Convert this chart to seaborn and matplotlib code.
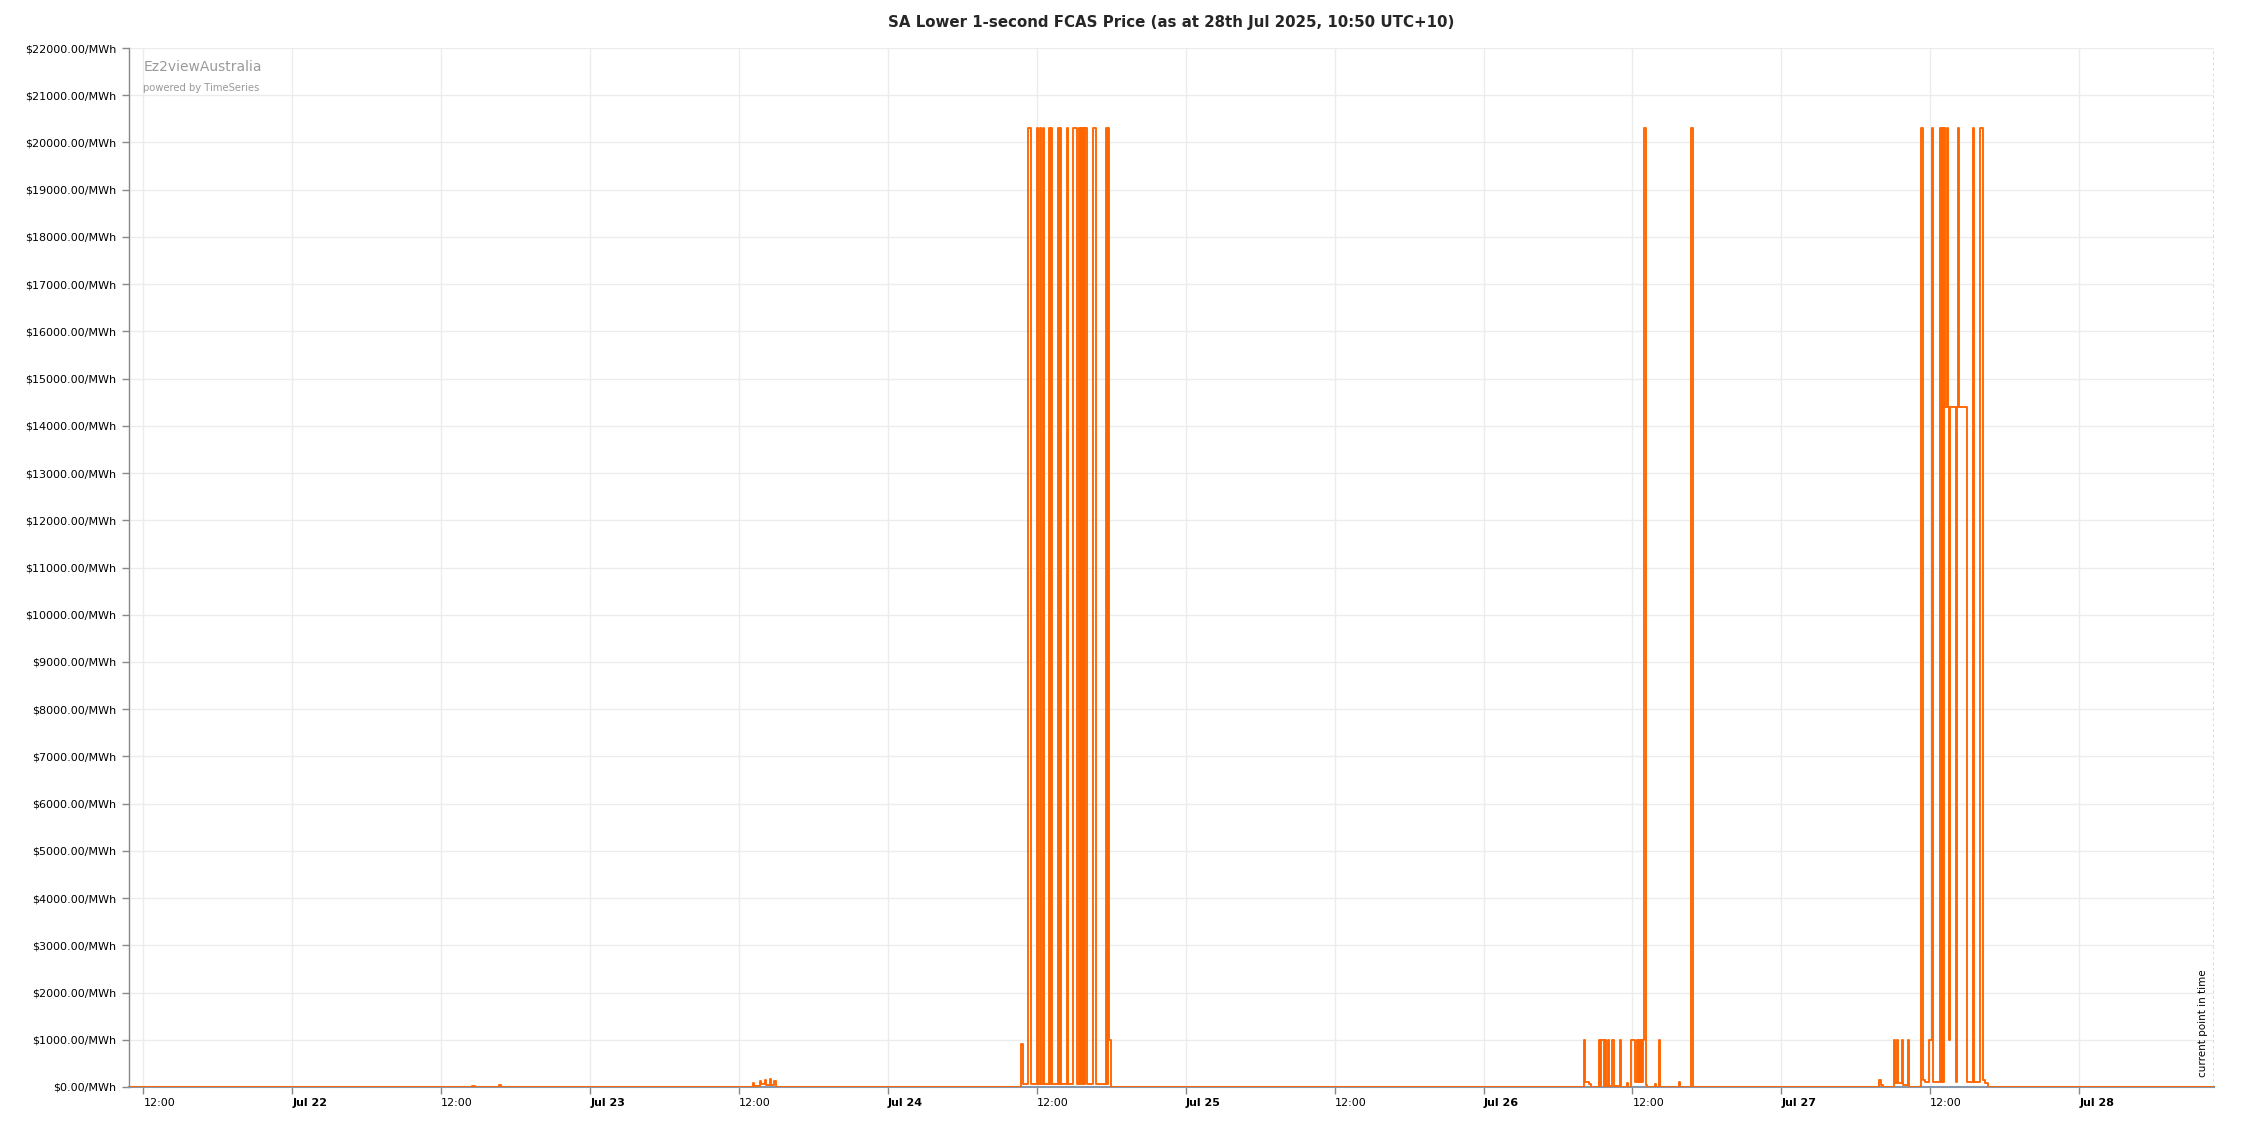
"""SA Lower 1-second FCAS price, 7-day view (Ez2view style)."""

import matplotlib

matplotlib.use("Agg")
import matplotlib.dates as mdates
import matplotlib.pyplot as plt
import matplotlib.transforms as mtransforms
import pandas as pd
import seaborn as sns

TITLE = "SA Lower 1-second FCAS Price (as at 28th Jul 2025, 10:50 UTC+10)"
WINDOW_START = "2025-07-21 10:50"
NOW = "2025-07-28 10:50"

# price change points ($/MWh), each value holds until the next time
quiet_times = ["2025-07-21 10:50", "2025-07-22 14:30", "2025-07-22 14:45",
               "2025-07-22 16:40", "2025-07-22 16:50"]
quiet_prices = [0, 30, 0, 40, 0]

jul23_times = ["2025-07-23 13:05", "2025-07-23 13:10", "2025-07-23 13:40",
               "2025-07-23 13:45", "2025-07-23 14:05", "2025-07-23 14:10",
               "2025-07-23 14:30", "2025-07-23 14:35", "2025-07-23 14:50",
               "2025-07-23 15:00"]
jul23_prices = [80, 20, 120, 60, 150, 40, 160, 50, 120, 0]

jul24_times = ["10:45", "10:55", "11:15", "11:30", "12:00", "12:05", "12:15",
               "12:20", "12:30", "12:35", "13:00", "13:05", "13:10", "13:15",
               "13:40", "13:45", "13:50", "13:55", "14:25", "14:30", "14:55",
               "15:15", "15:25", "15:30", "15:35", "15:40", "15:45", "15:50",
               "15:55", "16:00", "16:30", "16:45", "17:35", "17:40", "17:45",
               "17:50", "18:00"]
jul24_prices = [900, 60, 20300, 60, 20300, 60, 20300, 60, 20300, 60, 20300,
                60, 20300, 60, 20300, 60, 20300, 60, 20300, 60, 20300, 60,
                20300, 60, 20300, 60, 20300, 60, 20300, 60, 20300, 60, 20300,
                60, 20300, 1000, 0]

jul26_times = ["08:05", "08:10", "08:30", "08:40", "09:20", "09:25", "09:30",
               "09:40", "09:45", "09:50", "10:00", "10:05", "10:20", "10:30",
               "11:00", "11:05", "11:35", "11:40", "11:55", "12:10", "12:20",
               "12:25", "12:30", "12:35", "12:40", "12:45", "12:50", "12:55",
               "13:05", "13:10", "13:50", "13:55", "14:10", "14:15", "15:45",
               "15:50", "16:45", "16:55"]
jul26_prices = [1000, 100, 60, 0, 1000, 30, 1000, 30, 1000, 30, 1000, 30,
                1000, 30, 1000, 0, 80, 0, 1000, 100, 1000, 100, 1000, 100,
                1000, 100, 1000, 20300, 50, 0, 60, 0, 1000, 0, 100, 0,
                20300, 0]

jul27_times = ["07:50", "08:00", "08:10", "09:05", "09:10", "09:20", "09:25",
               "09:45", "09:50", "10:10", "10:15", "11:15", "11:25", "11:35",
               "11:55", "12:10", "12:15", "12:45", "12:50", "12:55", "13:00",
               "13:05", "13:10", "13:20", "13:25", "13:30", "13:35", "14:05",
               "14:10", "14:15", "14:20", "15:00", "15:25", "15:30", "16:00",
               "16:15", "16:25", "16:40"]
jul27_prices = [150, 50, 0, 1000, 80, 1000, 80, 1000, 50, 1000, 0, 20300,
                150, 100, 1000, 20300, 100, 20300, 100, 20300, 100, 20300,
                14400, 20300, 14400, 1000, 14400, 100, 14400, 20300, 14400,
                100, 20300, 100, 20300, 150, 80, 0]

Y_TICKS = list(range(0, 22001, 1000))
LINE_COLOR = "#ff6600"


def build_series() -> pd.DataFrame:
    times = list(quiet_times) + list(jul23_times)
    times += ["2025-07-24 " + t for t in jul24_times]
    times += ["2025-07-26 " + t for t in jul26_times]
    times += ["2025-07-27 " + t for t in jul27_times]
    times += [NOW]
    prices = quiet_prices + jul23_prices + jul24_prices + jul26_prices + jul27_prices + [0]
    df = pd.DataFrame({"time": pd.to_datetime(times), "price": prices})
    return df.sort_values("time").reset_index(drop=True)


def main() -> None:
    sns.set_theme(style="white")
    plt.rcParams["font.family"] = ["DejaVu Sans"]

    df = build_series()
    start = pd.Timestamp(WINDOW_START)
    now = pd.Timestamp(NOW)

    fig = plt.figure(figsize=(22.6, 11.27), dpi=100)
    ax = fig.add_axes([129 / 2260, 40 / 1127, (2214 - 129) / 2260, (1087 - 48) / 1127])

    sns.lineplot(data=df, x="time", y="price", ax=ax, color=LINE_COLOR,
                 linewidth=1.35, drawstyle="steps-post", estimator=None, zorder=3)

    ax.set_xlim(start, now + pd.Timedelta(minutes=2))
    ax.set_ylim(0, 22000)
    ax.set_xlabel("")
    ax.set_ylabel("")

    ax.set_yticks(Y_TICKS)
    ax.set_yticklabels([f"${v:.2f}/MWh" for v in Y_TICKS], fontsize=8)

    ticks = pd.date_range("2025-07-21 12:00", "2025-07-28 00:00", freq="12h")
    ax.set_xticks(ticks)
    labels = ax.set_xticklabels(
        ["12:00" if t.hour == 12 else f"{t:%b} {t.day}" for t in ticks], fontsize=8)
    # labels sit just right of their tick, as in the Ez2view charts
    shift = mtransforms.ScaledTranslation(3 / 100, 0, fig.dpi_scale_trans)
    for t, lab in zip(ticks, labels):
        lab.set_horizontalalignment("left")
        lab.set_transform(lab.get_transform() + shift)
        if t.hour == 0:
            lab.set_fontweight("bold")

    ax.grid(True, color="#ececec", linewidth=1)
    ax.tick_params(axis="both", length=5, width=1, color="#888888",
                   direction="out", bottom=True, left=True, labelcolor="black")
    ax.tick_params(axis="x", pad=3)
    ax.tick_params(axis="y", pad=4)

    for side in ["top", "right"]:
        ax.spines[side].set_visible(False)
    ax.spines["left"].set_color("#888888")
    ax.spines["bottom"].set_color("#8797ab")
    ax.spines["left"].set_linewidth(1)
    ax.spines["bottom"].set_linewidth(1.5)

    ax.axvline(now, color="#d62020", linestyle=(0, (2, 2)), linewidth=1, zorder=4)
    ax.annotate("current point in time", xy=(mdates.date2num(now), 0),
                xycoords=("data", "axes fraction"), xytext=(-4, 7),
                textcoords="offset points", rotation=90, ha="right", va="bottom",
                fontsize=7.5, color="black")

    ax.text(0.0068, 0.988, "Ez2viewAustralia", transform=ax.transAxes,
            fontsize=10, color="#9a9a9a", va="top", ha="left")
    ax.text(0.0068, 0.9665, "powered by TimeSeries", transform=ax.transAxes,
            fontsize=7.2, color="#9a9a9a", va="top", ha="left")

    fig.text((129 + 2214) / 2 / 2260, 1 - 22 / 1127, TITLE, ha="center",
             va="center", fontsize=10.8, fontweight="bold")

    fig.savefig("out.png", dpi=100, facecolor="white")
    plt.close(fig)


if __name__ == "__main__":
    main()
